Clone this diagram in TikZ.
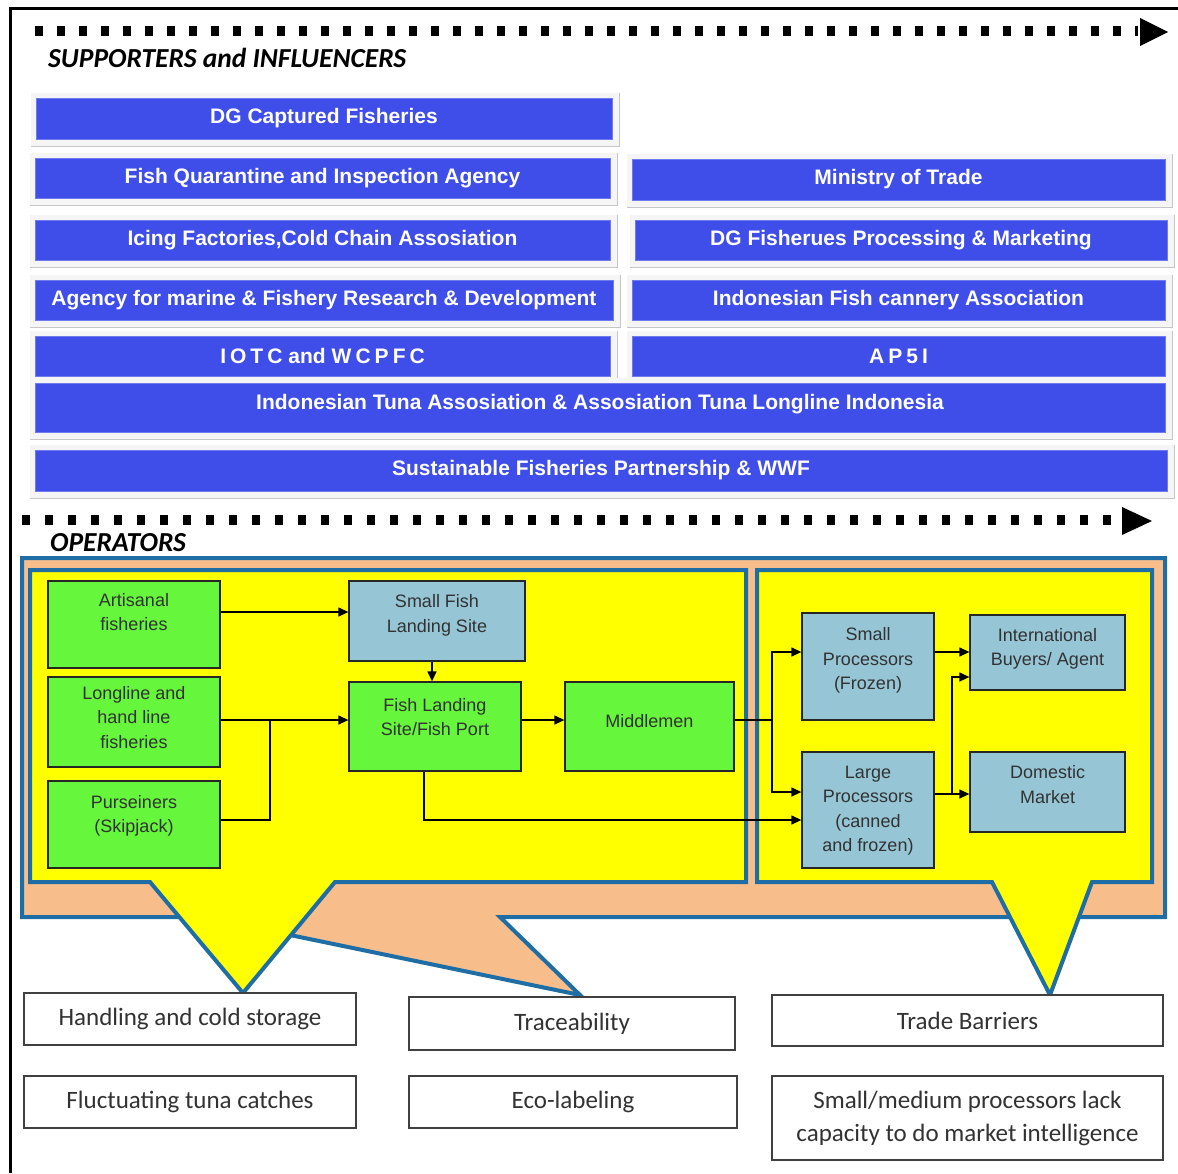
\documentclass[tikz,border=0pt]{standalone}
\usepackage{fontspec}
\setmainfont{Liberation Sans}
\newfontfamily\calfont{Carlito}
\usetikzlibrary{arrows.meta,backgrounds}
\definecolor{bbox}{RGB}{63,78,232}
\definecolor{ybg}{RGB}{255,255,0}
\definecolor{org}{RGB}{247,190,140}
\definecolor{bord}{RGB}{30,110,165}
\definecolor{grn}{RGB}{102,246,60}
\definecolor{lbl}{RGB}{150,198,214}
\definecolor{txt}{RGB}{50,50,50}
\newcommand{\optext}[2]{\raisebox{#1pt}[\height][\depth]{\begin{tabular}{@{}c@{}}#2\end{tabular}}}
\tikzset{
  bluebox/.style={fill=bbox, draw=bbox!75!white, line width=0.8pt, text=white, inner sep=0pt,
    font=\bfseries\fontsize{21}{24}\selectfont},
  opbox/.style={draw=black!85, line width=1.3pt, text=txt, align=center, inner sep=2pt,
    font=\fontsize{18}{24.5}\selectfont},
  gbox/.style={opbox, fill=grn},
  lbox/.style={opbox, fill=lbl},
  wbox/.style={draw=black!75, line width=1.2pt, fill=white, text=txt, align=center,
    font=\calfont\fontsize{25}{33}\selectfont},
  arr/.style={-{Triangle[length=10pt,width=9pt]}, line width=1.3pt},
  ln/.style={line width=1.3pt},
  callout/.style={draw=bord, line width=4pt, line join=miter},
  dotarrow/.style={line width=10pt},
  head/.style={fill=black},
  seclabel/.style={anchor=west, inner sep=0pt, font=\calfont\bfseries\itshape\fontsize{27.5}{30}\selectfont}
}
\begin{document}
\begin{tikzpicture}[x=1pt,y=-1pt]
\useasboundingbox (0,0) rectangle (1178,1173);
\begin{scope}[on background layer]
\fill[white] (0,0) rectangle (1178,1173);
\end{scope}
% frame
\draw[line width=3pt] (10,1173) -- (10,8) -- (1178,8);
% dotted arrows
\coordinate (t1) at (1168,32);
\coordinate (t2) at (1152,521);
\draw[dotarrow, dash pattern=on 8pt off 14pt] (35,31) -- (1138,31);
\fill[head] (1140,18) -- (t1) -- (1140,46) -- cycle;
\draw[dotarrow, dash pattern=on 8pt off 15pt] (22,520) -- (1120,520);
\fill[head] (1122,507) -- (t2) -- (1122,535) -- cycle;
\node[seclabel] (sup) at (48,58) {SUPPORTERS and INFLUENCERS};
\node[seclabel] (ops) at (50,543) {OPERATORS};
% supporters boxes
\node[bluebox, minimum width=576pt, minimum height=41pt] (b1) at (324,118.5) {DG Captured Fisheries};
\node[bluebox, minimum width=575pt, minimum height=40pt] (b2) at (322.5,178) {Fish Quarantine and Inspection Agency};
\node[bluebox, minimum width=533pt, minimum height=41pt] (b3) at (898.5,179.5) {Ministry of Trade};
\node[bluebox, minimum width=575pt, minimum height=40pt] (b4) at (322.5,240) {Icing Factories,Cold Chain Assosiation};
\node[bluebox, minimum width=532pt, minimum height=40pt] (b5) at (901,240) {DG Fisherues Processing \& Marketing};
\node[bluebox, minimum width=578pt, minimum height=40pt] (b6) at (324,300) {Agency for marine \& Fishery Research \& Development};
\node[bluebox, minimum width=533pt, minimum height=40pt] (b7) at (898.5,300) {Indonesian Fish cannery Association};
\node[bluebox, minimum width=575pt, minimum height=40pt] (b8) at (322.5,356) {I\kern4pt O\kern4pt T\kern4pt C\kern6pt and\kern6pt W\kern4pt C\kern4pt P\kern4pt F\kern4pt C};
\node[bluebox, minimum width=533pt, minimum height=40pt] (b9) at (898.5,356) {A\kern4pt P\kern4pt 5\kern4pt I};
\node[bluebox, minimum width=1130pt, minimum height=49pt] (b10) at (600,407.5) {\raisebox{3pt}[\height][\depth]{Indonesian Tuna Assosiation \& Assosiation Tuna Longline Indonesia}};
\node[bluebox, minimum width=1132pt, minimum height=41pt] (b11) at (601,470.5) {Sustainable Fisheries Partnership \& WWF};
\begin{scope}[on background layer]
\foreach \n in {b1,b2,b3,b4,b5,b6,b7,b8,b9,b10,b11}{
  \fill[gray!8] ([xshift=-5pt,yshift=5pt]\n.north west) rectangle ([xshift=7pt,yshift=-7pt]\n.south east);
  \draw[gray!45, line width=1.5pt] ([xshift=7pt,yshift=5pt]\n.north east) -- ([xshift=7pt,yshift=-7pt]\n.south east) -- ([xshift=-5pt,yshift=-7pt]\n.south west);
}
\end{scope}
% callouts
\draw[callout, fill=org] (22,558) -- (1165,558) -- (1165,917) -- (500,917) -- (580,995) -- (203,917) -- (22,917) -- cycle;
\draw[callout, fill=ybg] (30,570) -- (746,570) -- (746,882) -- (335,882) -- (243,993) -- (150,882) -- (30,882) -- cycle;
\draw[callout, fill=ybg] (757,570) -- (1152,570) -- (1152,882) -- (1092,882) -- (1050,995) -- (992,882) -- (757,882) -- cycle;
% operators
\node[gbox, minimum width=172pt, minimum height=87pt] (art) at (134,624.5) {\optext{11}{Artisanal\\fisheries}};
\node[gbox, minimum width=172pt, minimum height=90pt] (long) at (134,722) {\optext{3}{Longline and\\hand line\\fisheries}};
\node[gbox, minimum width=172pt, minimum height=87pt] (purse) at (134,824.5) {\optext{9}{Purseiners\\(Skipjack)}};
\node[lbox, minimum width=176pt, minimum height=80pt] (sfls) at (437,621) {\optext{6}{Small Fish\\Landing Site}};
\node[gbox, minimum width=172pt, minimum height=89pt] (flsp) at (435,726.5) {\optext{8}{Fish Landing\\Site/Fish Port}};
\node[gbox, minimum width=169pt, minimum height=89pt] (mid) at (649.5,726.5) {\optext{4}{Middlemen}};
\node[lbox, minimum width=132pt, minimum height=107pt] (spf) at (868,666.5) {\optext{6}{Small\\Processors\\(Frozen)}};
\node[lbox, minimum width=132pt, minimum height=116pt] (lpc) at (868,810) {\optext{0}{Large\\Processors\\(canned\\and frozen)}};
\node[lbox, minimum width=155pt, minimum height=75pt] (iba) at (1047.5,652.5) {\optext{4}{International\\Buyers/ Agent}};
\node[lbox, minimum width=155pt, minimum height=80pt] (dom) at (1047.5,792) {\optext{6}{Domestic\\Market}};
% connectors
\draw[arr] (art.east |- 0,612) -- (sfls.west |- 0,612);
\draw[arr] (sfls.south -| 432,0) -- (flsp.north -| 432,0);
\draw[arr] (long.east |- 0,720) -- (flsp.west |- 0,720);
\coordinate (j1) at (270,720);
\draw[ln] (purse.east |- 0,820) -| (j1);
\draw[arr] (flsp.east |- 0,720) -- (mid.west |- 0,720);
\coordinate (j2) at (772,720);
\draw[ln] (mid.east |- j2) -- (j2);
\draw[arr] (j2) |- (spf.west |- 0,652);
\draw[arr] (j2) |- (lpc.west |- 0,792);
\draw[arr] (flsp.south -| 424,0) |- (lpc.west |- 0,820);
\draw[arr] (spf.east |- 0,652) -- (iba.west |- 0,652);
\coordinate (j3) at (952,794);
\draw[ln] (lpc.east |- j3) -- (j3);
\draw[arr] (j3) |- (iba.west |- 0,677);
\draw[arr] (j3) -- (dom.west |- j3);
% issues
\node[wbox, minimum width=332pt, minimum height=52pt] (hcs) at (190,1019) {Handling and cold storage};
\node[wbox, minimum width=326pt, minimum height=53pt] (trc) at (572,1023.5) {Traceability};
\node[wbox, minimum width=391pt, minimum height=51pt] (tb) at (967.5,1020.5) {Trade Barriers};
\node[wbox, minimum width=332pt, minimum height=52pt] (ftc) at (190,1102) {Fluctuating tuna catches};
\node[wbox, minimum width=328pt, minimum height=52pt] (eco) at (573,1102) {Eco-labeling};
\node[wbox, minimum width=391pt, minimum height=84pt] (sm) at (967.5,1118) {Small/medium processors lack\\capacity to do market intelligence};
\end{tikzpicture}
\end{document}
